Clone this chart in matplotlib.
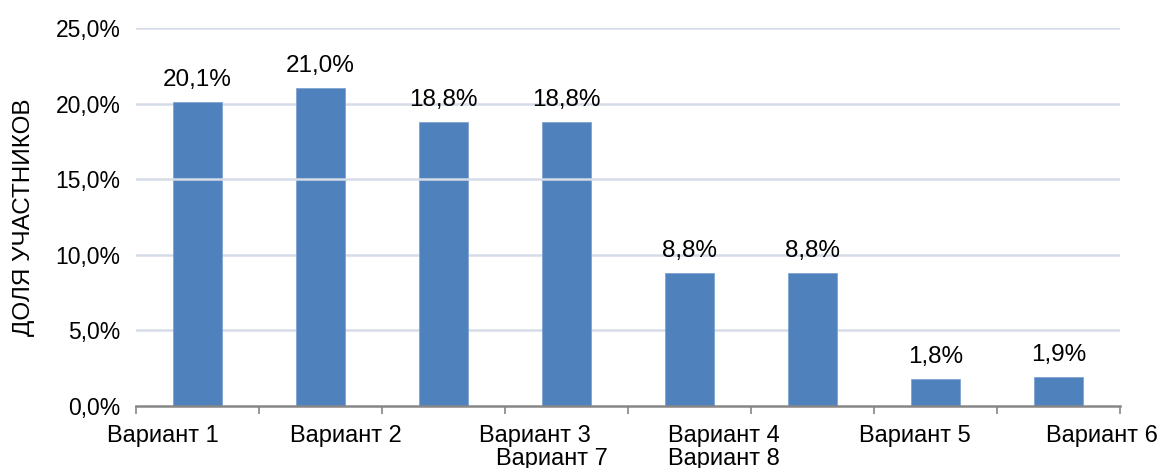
import matplotlib
matplotlib.use("Agg")
import matplotlib.pyplot as plt
from matplotlib.ticker import FuncFormatter, FixedLocator

plt.rcParams['font.family'] = ['Liberation Sans', 'DejaVu Sans']

# ---- data ---------------------------------------------------------------- #
categories = ['Вариант 1', 'Вариант 2', 'Вариант 3', 'Вариант 4',
              'Вариант 5', 'Вариант 6', 'Вариант 7', 'Вариант 8']
shares     = [20.1, 21.0, 18.8, 18.8, 8.8, 8.8, 1.8, 1.9]
y_label    = 'ДОЛЯ УЧАСТНИКОВ'

# x-label layout as in the source (labels were staggered/shifted, not under bars)
label_x   = [-0.28, 1.21, 2.74, 4.28, 5.83, 7.35, 2.88, 4.28]
label_row = [0, 0, 0, 0, 0, 0, 1, 1]

BAR   = '#4F81BD'
GRID  = '#D5DCE8'
AXIS  = '#868686'
fmt   = lambda v: f"{v:.1f}".replace('.', ',') + '%'

fig = plt.figure(figsize=(11.57, 4.68), dpi=100)
ax = fig.add_axes([136/1157, 1 - 406/468, (1120-136)/1157, (406-28)/468])

xs = list(range(len(shares)))
ax.bar(xs, shares, width=0.4, color=BAR, edgecolor='#7FA3D3', linewidth=0.6, zorder=2)
for x, v in zip(xs, shares):
    ax.annotate(fmt(v), (x, v), xytext=(0, 8), textcoords='offset points',
                ha='center', va='bottom', fontsize=17.5)

ax.set_xlim(-0.5, len(shares) - 0.5)
ax.set_ylim(0, 25)
ax.set_yticks([0, 5, 10, 15, 20, 25])
ax.yaxis.set_major_formatter(FuncFormatter(lambda v, p: fmt(v)))
ax.tick_params(axis='y', length=0, labelsize=16.5, pad=11)
for yv in [5, 10, 20, 25]:
    ax.axhline(yv, color=GRID, lw=1.8, zorder=1)
ax.axhline(15, color=GRID, lw=1.8, zorder=3)

ax.xaxis.set_major_locator(FixedLocator([i - 0.5 for i in range(len(shares) + 1)]))
ax.set_xticklabels([])
ax.tick_params(axis='x', length=6, width=1.2, color=AXIS, direction='out')
for lx, row, name in zip(label_x, label_row, categories):
    ax.text(lx, -2.38 - row * 1.5, name, ha='center', va='baseline', fontsize=17,
            transform=ax.transData, clip_on=False)

for s in ['top', 'right', 'left']:
    ax.spines[s].set_visible(False)
ax.spines['bottom'].set_color(AXIS)
ax.spines['bottom'].set_linewidth(1.8)

ax.set_ylabel(y_label, fontsize=17.5, va='center')
ax.yaxis.set_label_coords(-0.1138, 0.5)

fig.savefig('out.png', dpi=100)
